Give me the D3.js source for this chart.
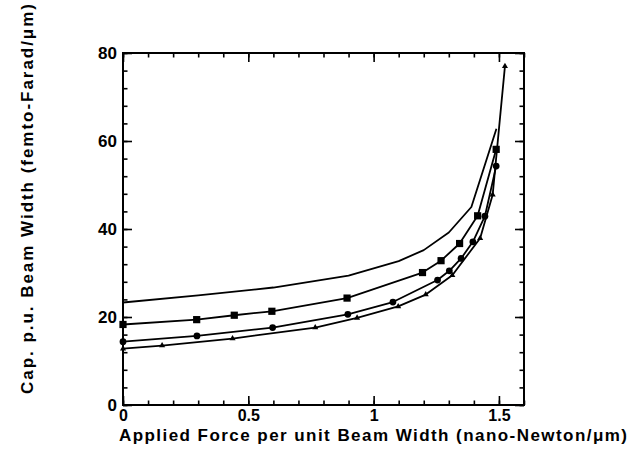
<!DOCTYPE html>
<html>
<head>
<meta charset="utf-8">
<script src="https://cdn.jsdelivr.net/npm/d3@7"></script>
<style>
  body { margin: 0; background: #fff; }
  svg { display: block; }
  text { font-family: "Liberation Sans", Arial, Helvetica, sans-serif; font-weight: bold; fill: #000; }
</style>
</head>
<body>
<svg id="chart" width="631" height="451"></svg>
<script>
// data: [force, capacitance]
let plainLine = [
  [0, 23.3], [0.3, 24.9], [0.6, 26.7], [0.9, 29.4], [1.1, 32.7],
  [1.2, 35.2], [1.3, 39.2], [1.39, 45.0], [1.49, 62.8]
];
let squareLine = [
  [0, 18.3], [0.294, 19.4], [0.444, 20.4], [0.594, 21.3], [0.894, 24.3],
  [1.195, 30.1], [1.269, 32.8], [1.343, 36.7], [1.415, 43.0], [1.489, 58.1]
];
let circleLine = [
  [0, 14.4], [0.295, 15.7], [0.597, 17.6], [0.897, 20.6], [1.077, 23.4],
  [1.255, 28.4], [1.302, 30.5], [1.349, 33.3], [1.396, 37.1], [1.444, 42.9], [1.489, 54.3]
];
let triangleLine = [
  [0, 12.8], [0.156, 13.5], [0.437, 15.1], [0.767, 17.6], [0.934, 19.8],
  [1.098, 22.4], [1.208, 25.1], [1.314, 29.5], [1.425, 37.9], [1.475, 47.8], [1.524, 77.0]
];

let xMajor = [0, 0.5, 1, 1.5];
let xMinor = d3.range(0, 17).map(i => i / 10);
let yMajor = [0, 20, 40, 60, 80];
let yMinor = d3.range(0, 21).map(i => i * 4);

let xTitle = "Applied Force per unit Beam Width (nano-Newton/\u03bcm)";
let yTitle = "Cap. p.u. Beam Width (femto-Farad/\u03bcm)";

let margin = { top: 53, right: 107, bottom: 46, left: 123 };
let width = 631 - margin.left - margin.right;
let height = 451 - margin.top - margin.bottom;

let svg = d3.select("#chart");
let g = svg.append("g").attr("transform", "translate(" + margin.left + "," + margin.top + ")");

let x = d3.scaleLinear().domain([0, 1.6]).range([0, width]);
let y = d3.scaleLinear().domain([0, 80]).range([height, 0]);

// ticks on all four sides, pointing inward
let drawTicks = (axis, translate) => {
  let a = g.append("g").attr("transform", translate).call(axis);
  a.select(".domain").remove();
  a.selectAll("line").attr("stroke", "#000").attr("stroke-width", 1.6);
  return a;
};

drawTicks(d3.axisBottom(x).tickValues(xMinor).tickSize(-4.5).tickFormat(""), "translate(0," + height + ")");
drawTicks(d3.axisTop(x).tickValues(xMinor).tickSize(-4.5).tickFormat(""), "translate(0,0)");
drawTicks(d3.axisLeft(y).tickValues(yMinor).tickSize(-4.5).tickFormat(""), "translate(0,0)");
drawTicks(d3.axisRight(y).tickValues(yMinor).tickSize(-4.5).tickFormat(""), "translate(" + width + ",0)");

let xAxis = drawTicks(d3.axisBottom(x).tickValues(xMajor).tickSize(-9).tickPadding(5).tickFormat(d3.format("")), "translate(0," + height + ")");
drawTicks(d3.axisTop(x).tickValues(xMajor).tickSize(-9).tickFormat(""), "translate(0,0)");
let yAxis = drawTicks(d3.axisLeft(y).tickValues(yMajor).tickSize(-9).tickPadding(6).tickFormat(d3.format("")), "translate(0,0)");
drawTicks(d3.axisRight(y).tickValues(yMajor).tickSize(-9).tickFormat(""), "translate(" + width + ",0)");

xAxis.selectAll("text").attr("font-size", 16).attr("font-family", null);
yAxis.selectAll("text").attr("font-size", 17).attr("font-family", null);

g.append("rect")
  .attr("width", width)
  .attr("height", height)
  .attr("fill", "none")
  .attr("stroke", "#000")
  .attr("stroke-width", 2);

let line = d3.line().x(d => x(d[0])).y(d => y(d[1]));

[plainLine, squareLine, circleLine, triangleLine].forEach(data => {
  g.append("path")
    .datum(data)
    .attr("d", line)
    .attr("fill", "none")
    .attr("stroke", "#000")
    .attr("stroke-width", 1.8)
    .attr("stroke-linejoin", "round");
});

let drawMarkers = (data, type, size) => {
  g.selectAll(null)
    .data(data)
    .enter()
    .append("path")
    .attr("transform", d => "translate(" + x(d[0]) + "," + y(d[1]) + ")")
    .attr("d", d3.symbol().type(type).size(size))
    .attr("fill", "#000");
};

drawMarkers(squareLine, d3.symbolSquare, 52);
drawMarkers(circleLine, d3.symbolCircle, 36);
drawMarkers(triangleLine, d3.symbolTriangle, 16);

svg.append("text")
  .attr("x", 373)
  .attr("y", 441)
  .attr("text-anchor", "middle")
  .attr("font-size", 17)
  .attr("textLength", 508)
  .attr("lengthAdjust", "spacing")
  .text(xTitle);

svg.append("text")
  .attr("transform", "translate(33,199) rotate(-90)")
  .attr("text-anchor", "middle")
  .attr("font-size", 17)
  .attr("textLength", 390)
  .attr("lengthAdjust", "spacing")
  .text(yTitle);
</script>
</body>
</html>
